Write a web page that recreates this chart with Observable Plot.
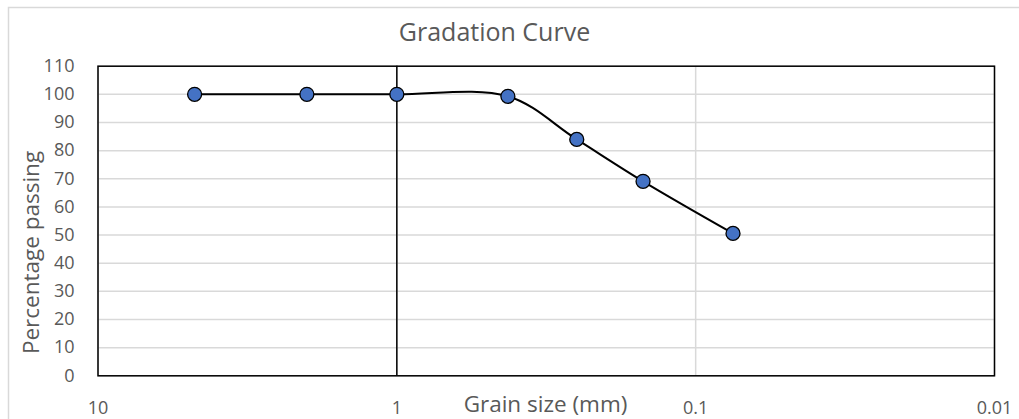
<!DOCTYPE html>
<html>
<head>
<meta charset="utf-8">
<script src="https://cdn.jsdelivr.net/npm/d3@7"></script>
<script src="https://cdn.jsdelivr.net/npm/@observablehq/plot@0.6"></script>
<style>
  html, body { margin: 0; padding: 0; background: #fff; }
  #chart { width: 1019px; height: 419px; overflow: hidden; }
</style>
</head>
<body>
<div id="chart"></div>
<script>
const grainSize = [4.75, 2, 1, 0.425, 0.25, 0.15, 0.075];
const passing = [100, 100, 100, 99.3, 84, 69.1, 50.6];
const xTicks = [10, 1, 0.1, 0.01];
const xTickLabels = ["10", "1", "0.1", "0.01"];
const yTicks = [0, 10, 20, 30, 40, 50, 60, 70, 80, 90, 100, 110];
const titleText = "Gradation Curve";
const xLabel = "Grain size (mm)";
const yLabel = "Percentage passing";

const data = grainSize.map((g, i) => ({size: g, pass: passing[i]}));
const textColor = "#595959";
const gridColor = "#d9d9d9";

const plot = Plot.plot({
  width: 1019,
  height: 419,
  marginLeft: 97.5,
  marginRight: 25,
  marginTop: 65.7,
  marginBottom: 43.7,
  style: {fontFamily: "'Open Sans', sans-serif", fontSize: "18px", color: textColor, background: "#fff"},
  x: {type: "log", domain: [10, 0.01], label: null},
  y: {domain: [0, 110], label: null},
  marks: [
    Plot.gridY(yTicks, {stroke: gridColor, strokeOpacity: 1, strokeWidth: 1.5}),
    Plot.gridX(xTicks, {stroke: gridColor, strokeOpacity: 1, strokeWidth: 1.5}),
    Plot.frame({stroke: "#000", strokeWidth: 1.5}),
    Plot.ruleX([1], {stroke: "#000", strokeWidth: 1.5}),
    Plot.axisX(xTicks, {tickSize: 0, tickPadding: 25.5, tickFormat: (d) => xTickLabels[xTicks.indexOf(d)], fill: textColor, fontSize: 18, label: null}),
    Plot.axisY(yTicks, {tickSize: 0, tickPadding: 23.5, fill: textColor, fontSize: 18, label: null}),
    Plot.line(data, {x: "size", y: "pass", curve: "catmull-rom", stroke: "#000", strokeWidth: 2}),
    Plot.dot(data, {x: "size", y: "pass", r: 7, fill: "#4472C4", stroke: "#000", strokeWidth: 1.3}),
    Plot.text([titleText], {frameAnchor: "top", text: (d) => d, dx: -51.75, dy: -25, lineAnchor: "bottom", fontSize: 25, fill: textColor}),
    Plot.text([xLabel], {frameAnchor: "bottom", text: (d) => d, dx: -0.75, dy: 36, lineAnchor: "bottom", fontSize: 22.5, fill: textColor}),
    Plot.text([yLabel], {frameAnchor: "left", text: (d) => d, dx: -66.5, dy: 31.5, rotate: -90, textAnchor: "middle", lineAnchor: "middle", fontSize: 22.5, fill: textColor})
  ]
});

document.getElementById("chart").appendChild(plot);
d3.select(plot).append("rect")
  .attr("x", 8.5).attr("y", 7.5)
  .attr("width", 1030).attr("height", 430)
  .attr("fill", "none").attr("stroke", gridColor).attr("stroke-width", 1.5);
</script>
</body>
</html>
